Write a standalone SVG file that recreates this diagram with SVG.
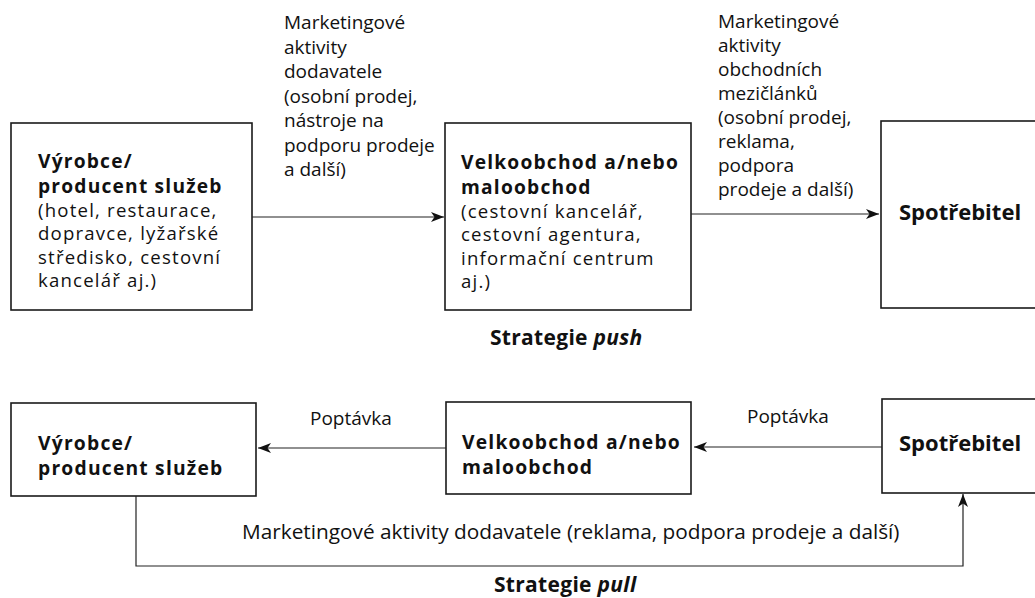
<svg xmlns="http://www.w3.org/2000/svg" width="1035" height="598" viewBox="0 0 1035 598">
  <defs>
    <marker id="arrow" viewBox="0 0 13 10" refX="13" refY="5" markerWidth="13" markerHeight="10" markerUnits="userSpaceOnUse" orient="auto">
      <path d="M0,0 L13,5 L0,10 L3.5,5 Z" fill="#111"/>
    </marker>
    <style>
      .box { fill: #fff; stroke: #1a1a1a; stroke-width: 1.6; }
      .link { fill: none; stroke: #222; stroke-width: 1.2; }
      text { font-family: "Open Sans", "Noto Sans", sans-serif; fill: #111; }
      .t { font-size: 18.6px; letter-spacing: 1.2px; }
      .b { font-weight: 700; font-size: 19.2px; letter-spacing: 1.2px; }
      .bb { font-weight: 700; font-size: 19.3px; letter-spacing: 1.2px; }
      .c { font-weight: 700; font-size: 22px; }
      .l { font-size: 19px; }
      .h { font-size: 21px; font-weight: 700; letter-spacing: 0.3px; }
    </style>
  </defs>
  <rect width="1035" height="598" fill="#fff"/>

  <!-- Push strategy -->
  <g id="push-producer">
    <rect class="box" x="11" y="123" width="241" height="187"/>
    <text class="t" x="38" y="168"><tspan class="b">Výrobce/</tspan><tspan class="b" x="38" dy="24.5">producent služeb</tspan><tspan x="38" dy="24">(hotel, restaurace,</tspan><tspan x="38" dy="23.5">dopravce, lyžařské</tspan><tspan x="38" dy="23.5">středisko, cestovní</tspan><tspan x="38" dy="23.5">kancelář aj.)</tspan></text>
  </g>
  <g id="push-trade">
    <rect class="box" x="445" y="123" width="246" height="187"/>
    <text class="t" x="461" y="169"><tspan class="b">Velkoobchod a/nebo</tspan><tspan class="b" x="461" dy="24.5">maloobchod</tspan><tspan x="461" dy="24">(cestovní kancelář,</tspan><tspan x="461" dy="23.5">cestovní agentura,</tspan><tspan x="461" dy="23.5">informační centrum</tspan><tspan x="461" dy="23.5">aj.)</tspan></text>
  </g>
  <g id="push-consumer">
    <rect class="box" x="881" y="121" width="160" height="187"/>
    <text class="c" x="899" y="220">Spotřebitel</text>
  </g>
  <g id="push-labels">
    <text class="l" x="284" y="29"><tspan>Marketingové</tspan><tspan x="284" dy="24.5">aktivity</tspan><tspan x="284" dy="24.5">dodavatele</tspan><tspan x="284" dy="24.5">(osobní prodej,</tspan><tspan x="284" dy="24.5">nástroje na</tspan><tspan x="284" dy="24.5">podporu prodeje</tspan><tspan x="284" dy="24.5">a další)</tspan></text>
    <text class="l" x="718" y="28"><tspan>Marketingové</tspan><tspan x="718" dy="24">aktivity</tspan><tspan x="718" dy="24">obchodních</tspan><tspan x="718" dy="24">mezičlánků</tspan><tspan x="718" dy="24">(osobní prodej,</tspan><tspan x="718" dy="24">reklama,</tspan><tspan x="718" dy="24">podpora</tspan><tspan x="718" dy="24">prodeje a další)</tspan></text>
    <text class="h" x="490" y="345">Strategie <tspan font-style="italic">push</tspan></text>
  </g>

  <!-- Pull strategy -->
  <g id="pull-producer">
    <rect class="box" x="11" y="403" width="245" height="93"/>
    <text class="bb" x="38" y="450"><tspan>Výrobce/</tspan><tspan x="38" dy="25">producent služeb</tspan></text>
  </g>
  <g id="pull-trade">
    <rect class="box" x="446" y="402" width="245" height="92"/>
    <text class="bb" x="462" y="449"><tspan>Velkoobchod a/nebo</tspan><tspan x="462" dy="25">maloobchod</tspan></text>
  </g>
  <g id="pull-consumer">
    <rect class="box" x="882" y="399" width="160" height="94"/>
    <text class="c" x="899" y="451">Spotřebitel</text>
  </g>
  <g id="pull-labels">
    <text class="l" x="310" y="425">Poptávka</text>
    <text class="l" x="747" y="423">Poptávka</text>
    <text class="l" x="242" y="539" style="font-size:20.8px">Marketingové aktivity dodavatele (reklama, podpora prodeje a další)</text>
    <text class="h" x="494" y="592">Strategie <tspan font-style="italic">pull</tspan></text>
  </g>

  <g id="connectors">
    <line class="link" x1="252" y1="217" x2="444" y2="217" marker-end="url(#arrow)"/>
    <line class="link" x1="691" y1="214" x2="879" y2="214" marker-end="url(#arrow)"/>
    <line class="link" x1="446" y1="448" x2="258" y2="448" marker-end="url(#arrow)"/>
    <line class="link" x1="882" y1="447" x2="694" y2="447" marker-end="url(#arrow)"/>
    <polyline class="link" points="136,496 136,566 963,566 963,494" marker-end="url(#arrow)"/>
  </g>
</svg>
